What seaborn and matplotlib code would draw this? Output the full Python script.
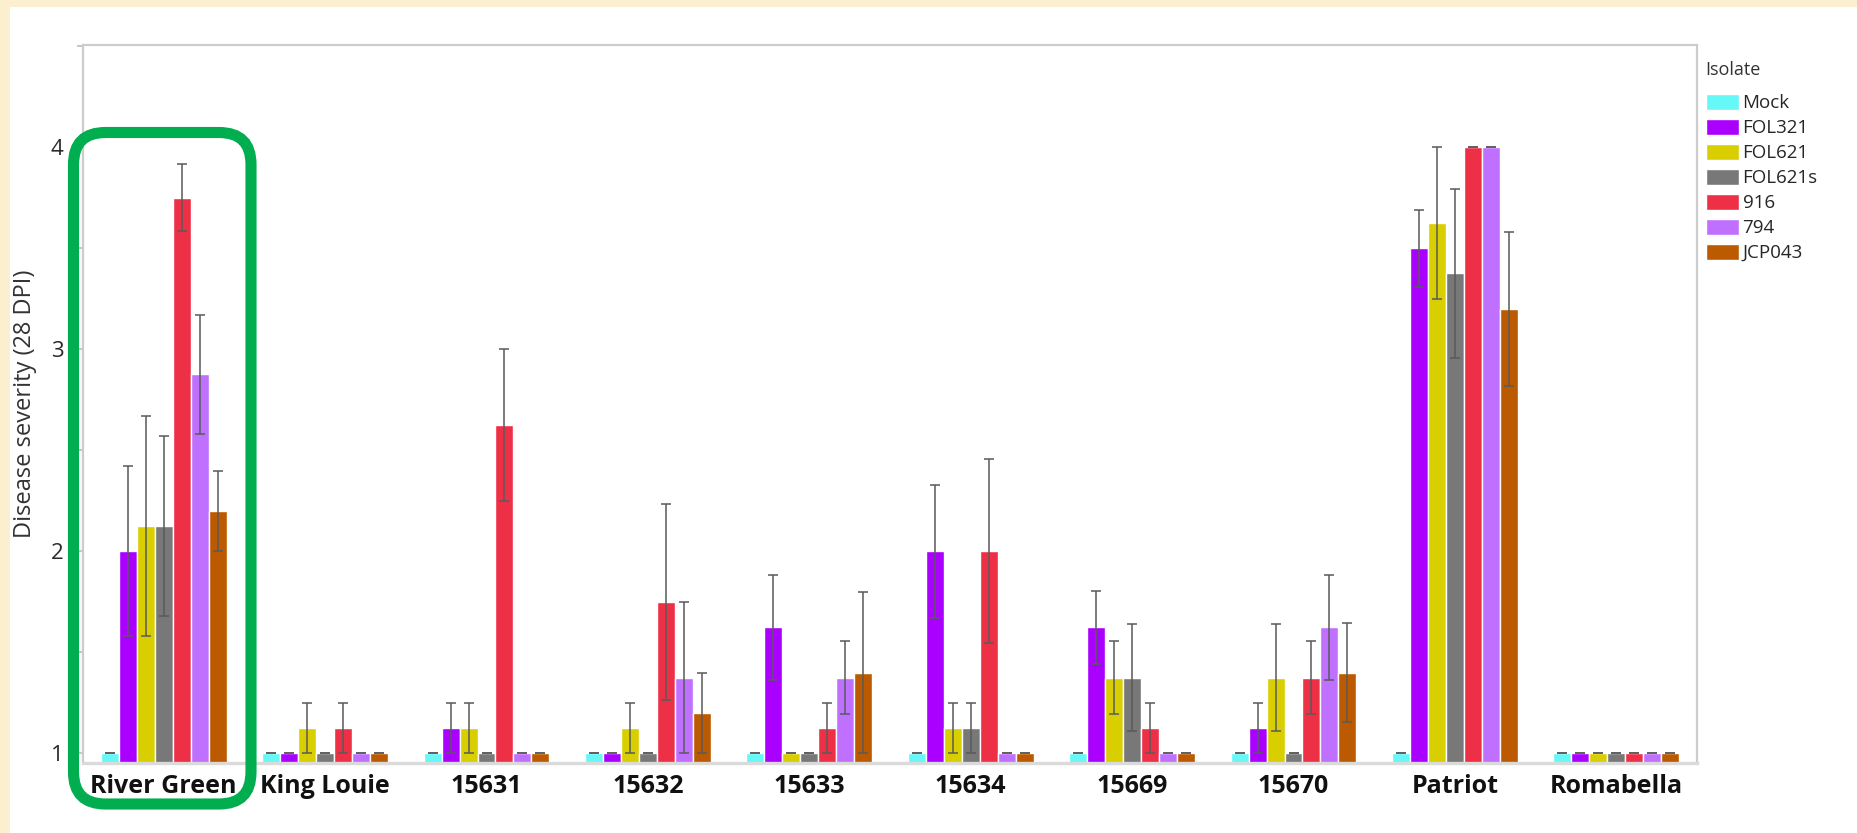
from __future__ import annotations

import matplotlib.pyplot as plt
import pandas as pd
import seaborn as sns
from matplotlib.patches import FancyBboxPatch, Rectangle
from matplotlib.ticker import MultipleLocator


CULTIVARS = ["River Green", "King Louie", "15631", "15632", "15633",
             "15634", "15669", "15670", "Patriot", "Romabella"]
ISOLATES = ["Mock", "FOL321", "FOL621", "FOL621s", "916", "794", "JCP043"]
COLORS = ["#66F7F7", "#AA00FF", "#D9CF00", "#787878", "#EE3047", "#C070FF", "#BB5A00"]

# mean disease severity (28 DPI), one list per isolate, in CULTIVARS order
mock = [1, 1, 1, 1, 1, 1, 1, 1, 1, 1]
fol321 = [2.0, 1.0, 1.125, 1.0, 1.625, 2.0, 1.625, 1.125, 3.5, 1.0]
fol621 = [2.125, 1.125, 1.125, 1.125, 1.0, 1.125, 1.375, 1.375, 3.625, 1.0]
fol621s = [2.125, 1.0, 1.0, 1.0, 1.0, 1.125, 1.375, 1.0, 3.375, 1.0]
i916 = [3.75, 1.125, 2.625, 1.75, 1.125, 2.0, 1.125, 1.375, 4.0, 1.0]
i794 = [2.875, 1.0, 1.0, 1.375, 1.375, 1.0, 1.0, 1.625, 4.0, 1.0]
jcp043 = [2.2, 1.0, 1.0, 1.2, 1.4, 1.0, 1.0, 1.4, 3.2, 1.0]

# standard errors
mock_se = [0, 0, 0, 0, 0, 0, 0, 0, 0, 0]
fol321_se = [0.42, 0, 0.125, 0, 0.26, 0.33, 0.18, 0.125, 0.19, 0]
fol621_se = [0.545, 0.125, 0.125, 0.125, 0, 0.125, 0.18, 0.265, 0.375, 0]
fol621s_se = [0.445, 0, 0, 0, 0, 0.125, 0.265, 0, 0.42, 0]
i916_se = [0.165, 0.125, 0.375, 0.485, 0.125, 0.455, 0.125, 0.18, 0, 0]
i794_se = [0.295, 0, 0, 0.375, 0.18, 0, 0, 0.26, 0, 0]
jcp043_se = [0.2, 0, 0, 0.2, 0.4, 0, 0, 0.245, 0.38, 0]

MEANS = [mock, fol321, fol621, fol621s, i916, i794, jcp043]
SES = [mock_se, fol321_se, fol621_se, fol621s_se, i916_se, i794_se, jcp043_se]


def main() -> None:
    sns.set_theme(style="white")
    plt.rcParams["font.family"] = ["Open Sans", "DejaVu Sans"]

    rows = []
    for iso, vals, errs in zip(ISOLATES, MEANS, SES):
        for cv, v, e in zip(CULTIVARS, vals, errs):
            rows.append({"cultivar": cv, "isolate": iso, "severity": v, "se": e})
    df = pd.DataFrame(rows)

    W, H = 1857, 833
    fig = plt.figure(figsize=(W / 100, H / 100), dpi=100, facecolor="#FBEFD0")
    # white panel over the cream page
    fig.patches.append(Rectangle((10 / W, 0), 1, 1 - 7 / H, transform=fig.transFigure,
                                 facecolor="white", edgecolor="none", zorder=-5))

    ax = fig.add_axes([83 / W, (H - 763) / H, (1697 - 83) / W, (763 - 45) / H])
    ax.set_zorder(1)
    sns.barplot(data=df, x="cultivar", y="severity", hue="isolate",
                order=CULTIVARS, hue_order=ISOLATES, palette=COLORS,
                width=0.78, saturation=1, errorbar=None, ax=ax)

    for cont, iso in zip(ax.containers, ISOLATES):
        sub = df[df["isolate"] == iso].set_index("cultivar").loc[CULTIVARS]
        xs = [b.get_x() + b.get_width() / 2 for b in cont]
        ax.errorbar(xs, sub["severity"], yerr=sub["se"], fmt="none",
                    ecolor="#5A5A5A", alpha=0.85, elinewidth=1.3,
                    capsize=3.6, capthick=1.3, zorder=5)

    ax.set_ylim(0.953, 4.505)
    ax.set_xlim(-0.5, len(CULTIVARS) - 0.5)
    ax.yaxis.set_major_locator(MultipleLocator(1))
    ax.yaxis.set_minor_locator(MultipleLocator(0.5))
    ax.tick_params(axis="y", which="both", left=True, length=4, width=1.2,
                   color="#BBBBBB", labelsize=16, labelcolor="#2A2A2A", pad=10)
    ax.tick_params(axis="x", bottom=False, labelsize=18, pad=2)
    for lab in ax.get_xticklabels():
        lab.set_fontweight("bold")
        lab.set_color("#111111")
    ax.set_xlabel("")
    ax.set_ylabel("Disease severity (28 DPI)", fontsize=17, color="#333333", labelpad=10)
    for s in ax.spines.values():
        s.set_color("#CCCCCC")
        s.set_linewidth(1.6)
    ax.spines["bottom"].set_color("#DADADA")
    ax.spines["bottom"].set_linewidth(2.4)

    ax.legend(loc="upper left", bbox_to_anchor=(1706 / W, 1 - 94 / H),
              bbox_transform=fig.transFigure, frameon=False, borderpad=0,
              borderaxespad=0, fontsize=13.5, handlelength=1.75, handleheight=0.9,
              handletextpad=0.2, labelspacing=0.36)
    fig.text(1705 / W, 1 - 70 / H, "Isolate", fontsize=13, color="#333333",
             ha="left", va="center")

    # green highlight around River Green (figure-fraction coords, round corners kept circular)
    bx0, bx1, by0, by1 = 73.5, 251, 132.5, 804
    box = FancyBboxPatch((bx0 / W, 1 - by1 / H), (bx1 - bx0) / W, (by1 - by0) / H,
                         transform=fig.transFigure,
                         boxstyle=f"round,pad=0,rounding_size={32 / W}",
                         mutation_aspect=W / H,
                         facecolor="none", edgecolor="#00AD4F", linewidth=8,
                         zorder=10)
    fig.patches.append(box)

    fig.savefig("out.png", dpi=100, facecolor=fig.get_facecolor())
    plt.close(fig)


if __name__ == "__main__":
    main()
